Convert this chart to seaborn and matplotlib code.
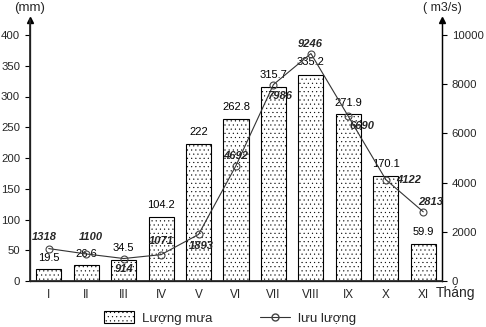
import numpy as np
import pandas as pd
import matplotlib
matplotlib.use("Agg")
import matplotlib.pyplot as plt
import seaborn as sns
from matplotlib.patches import Patch
from matplotlib.lines import Line2D

months = ["I", "II", "III", "IV", "V", "VI", "VII", "VIII", "IX", "X", "XI"]
rain = [19.5, 26.6, 34.5, 104.2, 222, 262.8, 315.7, 335.2, 271.9, 170.1, 59.9]
rain_labels = ["19.5", "26.6", "34.5", "104.2", "222", "262.8", "315.7", "335.2", "271.9", "170.1", "59.9"]
flow = [1318, 1100, 914, 1071, 1893, 4692, 7986, 9246, 6690, 4122, 2813]
left_ticks = [0, 50, 100, 150, 200, 250, 300, 350, 400]
right_ticks = [0, 2000, 4000, 6000, 8000, 10000]

# label offsets (pixels) -- layout only
rain_off = [11, 11, 12, 12, 12, 12, 12, 13, 11, 12, 12]
flow_off = [(-4, 12), (5, 17), (0, -10), (0, 14), (3, -12), (0, 10), (6, -11.5),
            (-1, 10), (14, -10), (23, 0), (7, 10)]

sns.set_theme(style="white")
plt.rcParams['font.family'] = ['Liberation Sans', 'DejaVu Sans']
plt.rcParams['hatch.linewidth'] = 0.3

fig = plt.figure(figsize=(4.86, 3.27), dpi=100)
H = 327.0
W = 486.0
ax_left, ax_right = 30 / W, 442 / W
y0, ytop = 281, 20
ax = fig.add_axes([ax_left, 1 - y0 / H, ax_right - ax_left, (y0 - ytop) / H])
ymax = 400 * (y0 - ytop) / (y0 - 35)

df = pd.DataFrame({"month": months, "rain": rain, "flow": flow})
sns.barplot(data=df, x="month", y="rain", ax=ax, color="white", edgecolor="black",
            linewidth=0.8, width=0.67, saturation=1)
for p in ax.patches:
    p.set_hatch("....")
    p.set_facecolor("white")
    p.set_edgecolor("black")
ax.set_xlim(-0.5, 10.5)
ax.set_ylim(0, ymax)
ax.set_yticks(left_ticks)
ax.set_xlabel("")
ax.set_ylabel("")
ax.tick_params(axis="y", direction="out", length=3.5, width=0.8, labelsize=8.2, pad=3.6, color="black", left=True)
ax.tick_params(axis="x", length=0, labelsize=8.5, pad=6)
ax.spines["top"].set_visible(False)
for s in ["left", "bottom", "right"]:
    ax.spines[s].set_color("black")
    ax.spines[s].set_linewidth(0.9)

for i, (v, lab) in enumerate(zip(rain, rain_labels)):
    ax.annotate(lab, (i, v), xytext=(0, rain_off[i] * 0.72), textcoords="offset points",
                ha="center", va="center", fontsize=8, color="black")

ax2 = ax.twinx()
sns.lineplot(x=np.arange(len(flow)), y=flow, ax=ax2, color="#333333", linewidth=0.8,
             marker="o", markersize=5, markerfacecolor="none", markeredgecolor="#444444",
             markeredgewidth=0.8)
ax2.set_ylim(0, ymax * 25)
ax2.set_yticks(right_ticks)
ax2.tick_params(axis="y", direction="out", length=3.5, width=0.8, labelsize=8.2, pad=3.6, color="black", right=True)
ax2.spines["top"].set_visible(False)
ax2.spines["right"].set_color("black")
ax2.spines["right"].set_linewidth(0.9)
ax2.grid(False)
ax.grid(False)
for i, v in enumerate(flow):
    dx, dy = flow_off[i]
    ax2.annotate(str(v), (i, v), xytext=(dx * 0.72, dy * 0.72), textcoords="offset points",
                 ha="center", va="center", fontsize=8, fontweight="bold", fontstyle="italic")

# arrows on axis tops
ax.plot([0], [1], marker="^", color="black", ms=5, transform=ax.transAxes, clip_on=False)
ax.plot([1], [1], marker="^", color="black", ms=5, transform=ax.transAxes, clip_on=False)

fig.text(30 / W, 1 - 8 / H, "(mm)", ha="center", va="center", fontsize=9.5)
fig.text(442 / W, 1 - 8 / H, "( m3/s)", ha="center", va="center", fontsize=9)
fig.text(456 / W, 1 - 293 / H, "Tháng", ha="center", va="center", fontsize=10)

handles = [Patch(facecolor="white", edgecolor="black", hatch="....", linewidth=0.8),
           Line2D([0], [0], color="#333333", lw=0.8, marker="o", ms=5,
                  markerfacecolor="none", markeredgecolor="#444444")]
fig.legend(handles, ["Lượng mưa", "lưu lượng"], ncol=2, loc="center",
           bbox_to_anchor=(230 / W, 1 - 318 / H), frameon=False, fontsize=9.5,
           handlelength=2.3, handleheight=1.0, handletextpad=0.6, columnspacing=3.6)

fig.savefig("out.png", dpi=100)
